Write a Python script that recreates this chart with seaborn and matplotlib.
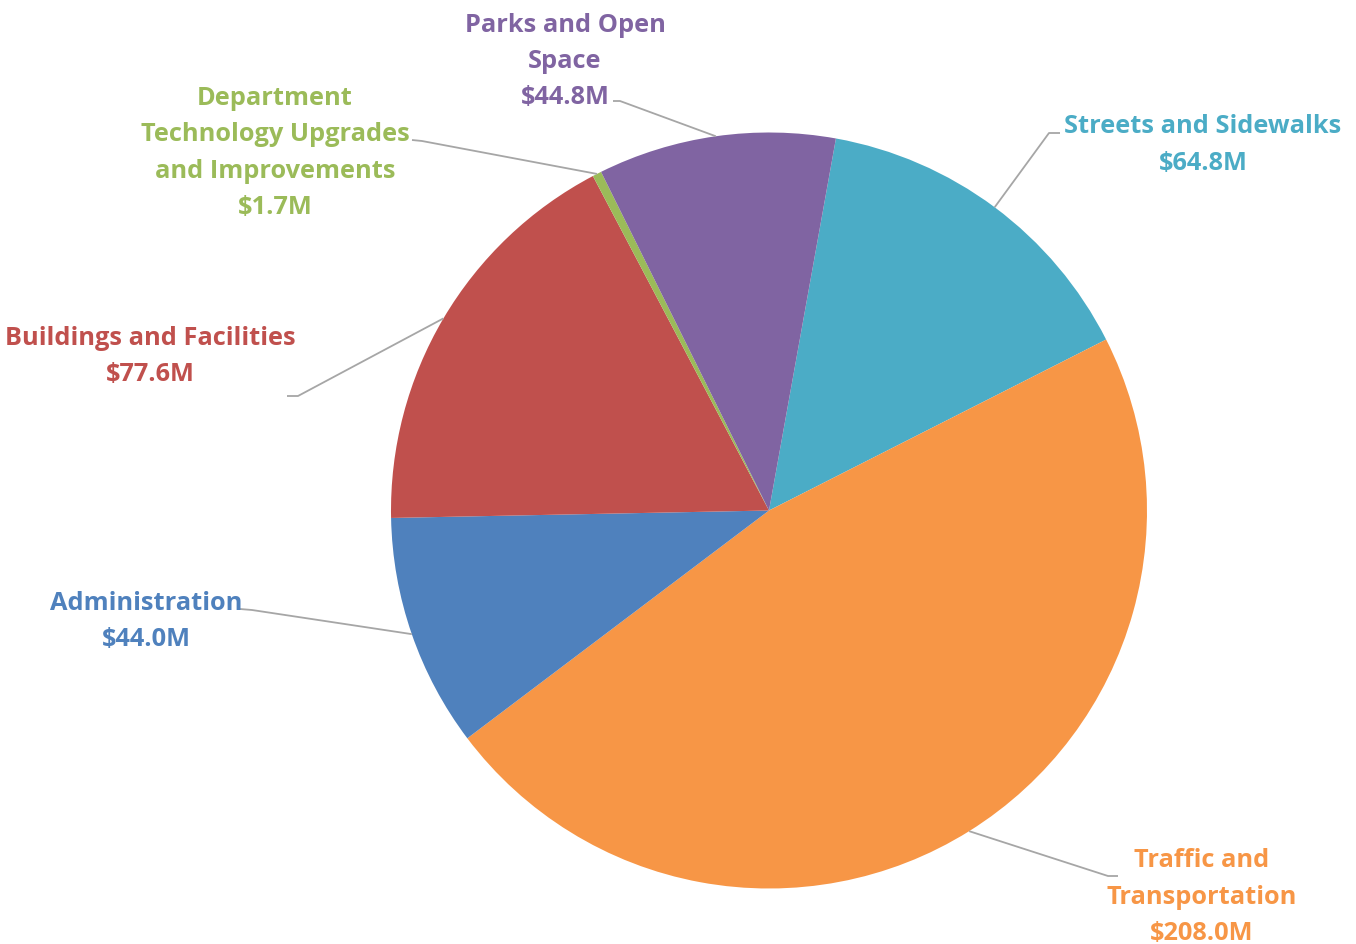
import numpy as np
import matplotlib
matplotlib.use("Agg")
import matplotlib.pyplot as plt
import seaborn as sns

# Capital budget by program area (millions of dollars)
categories = [
    "Streets and Sidewalks",
    "Traffic and\nTransportation",
    "Administration",
    "Buildings and Facilities",
    "Department\nTechnology Upgrades\nand Improvements",
    "Parks and Open\nSpace",
]
values = [64.8, 208.0, 44.0, 77.6, 1.7, 44.8]
colors_hex = ["#4BACC6", "#F79646", "#4F81BD", "#C0504D", "#9BBB59", "#8064A2"]

sns.set_theme(style="white")
plt.rcParams["font.family"] = ["Open Sans", "DejaVu Sans"]

W, H = 1356, 944
CX, CY, R = 769.0, 510.5, 378.0  # pie centre and radius in pixels


def to_data(px, py):
    return (px - CX) / R, (CY - py) / R


fig = plt.figure(figsize=(W / 100, H / 100), dpi=100)
ax = fig.add_axes([0, 0, 1, 1])
palette = sns.color_palette(colors_hex)

wedges, _ = ax.pie(
    values,
    colors=palette,
    startangle=90 - 10.2,
    counterclock=False,
    radius=1.0,
    wedgeprops=dict(linewidth=0),
)

ax.set_xlim(-CX / R, (W - CX) / R)
ax.set_ylim(-(H - CY) / R, CY / R)
ax.set_aspect("auto")
ax.axis("off")

# label block centre, elbow and end of the leader line (pixels)
label_layout = [
    dict(text=(1203, 145), elbow=(1049, 133), end=(1060, 133)),
    dict(text=(1202, 897), elbow=(1108, 876), end=(1118, 876)),
    dict(text=(146, 621.5), elbow=(252, 610), end=(240, 609)),
    dict(text=(150, 356.5), elbow=(298, 396), end=(287, 396)),
    dict(text=(275, 153), elbow=(422, 141), end=(412, 140)),
    dict(text=(565, 61.5), elbow=(620, 101), end=(613, 101)),
]

for w, cat, val, col, lay in zip(wedges, categories, values, colors_hex, label_layout):
    mid = np.deg2rad((w.theta1 + w.theta2) / 2)
    sx, sy = np.cos(mid), np.sin(mid)
    ex, ey = to_data(*lay["elbow"])
    nx, ny = to_data(*lay["end"])
    ax.plot([sx, ex, nx], [sy, ey, ny], color="#A6A6A6", lw=1.3,
            solid_capstyle="butt", zorder=1)
    tx, ty = to_data(*lay["text"])
    ax.text(tx, ty, f"{cat}\n${val:.1f}M", color=col, fontsize=18.3,
            fontweight="bold", ha="center", va="center",
            multialignment="center", linespacing=1.58)

fig.savefig("out.png", dpi=100, facecolor="white")
